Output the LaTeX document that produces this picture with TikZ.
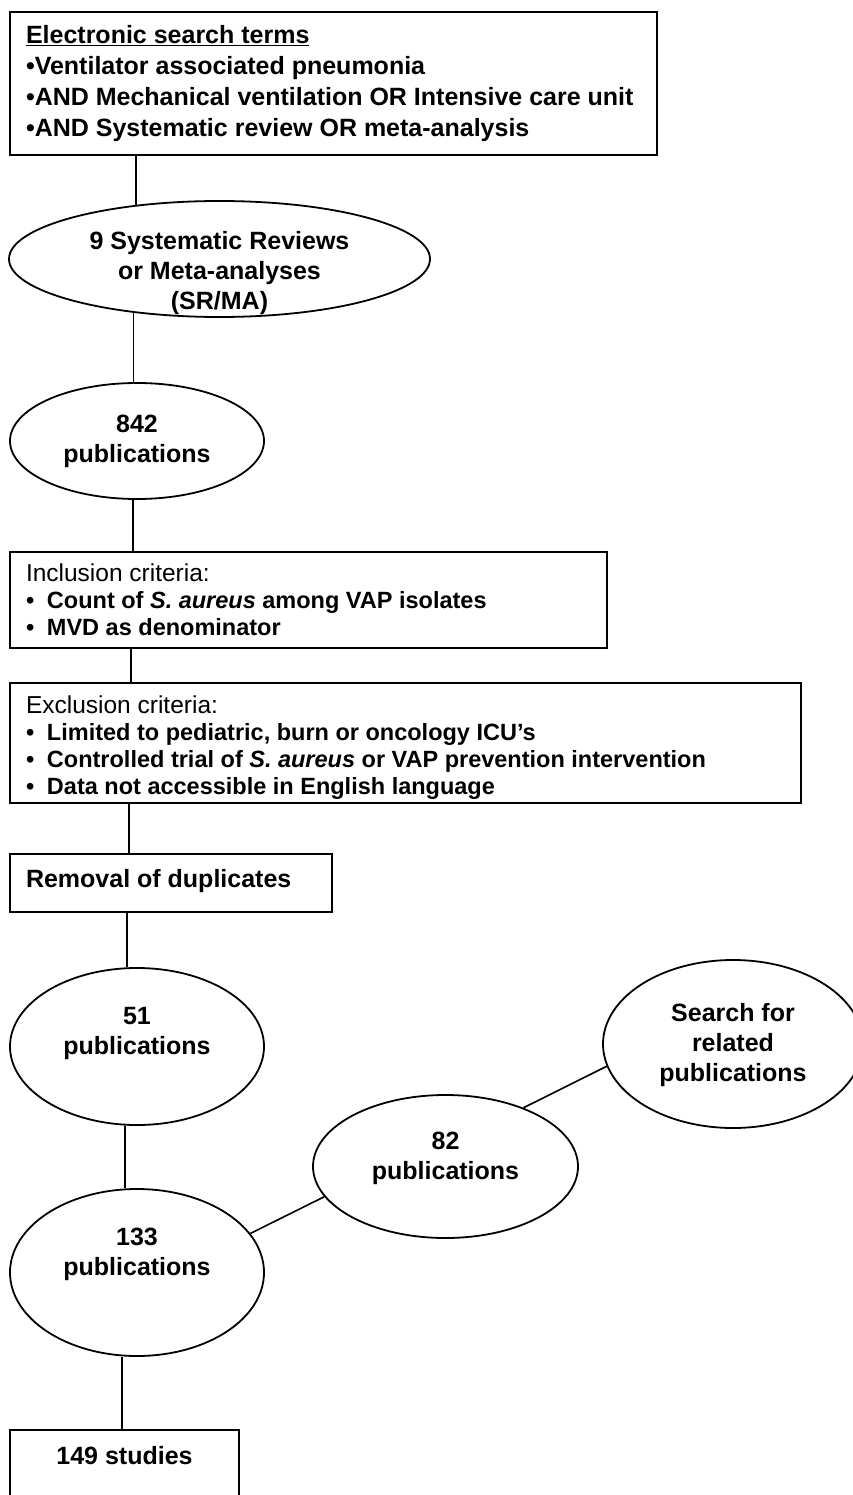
\documentclass[tikz,border=0pt]{standalone}
\usepackage{fontspec}
\setmainfont{Liberation Sans}
\usetikzlibrary{shapes.geometric}
\newcommand{\lift}[2]{\raisebox{#1}[0pt][0pt]{\begin{tabular}[t]{@{}c@{}}#2\end{tabular}}}
\newcommand{\boxtext}[3]{\raisebox{#1}[0pt][0pt]{\makebox[#2][l]{\begin{tabular}[t]{@{}l@{}}#3\end{tabular}}}}
\newcommand{\bul}{\makebox[21pt][l]{•}}
\newcommand{\crithead}{\fontsize{24.5}{27}\selectfont\mdseries}
\tikzset{
  box/.style={draw, line width=2pt, rectangle, inner sep=0pt, font=\fontsize{25}{30}\selectfont\bfseries},
  oval/.style={draw, line width=1.8pt, ellipse, inner sep=0pt, font=\fontsize{25}{30}\selectfont\bfseries},
  crit/.style={font=\fontsize{23.5}{27}\selectfont\bfseries},
  conn/.style={line width=1.6pt}
}
\begin{document}
\begin{tikzpicture}[x=1pt,y=-1pt]
\fill[white] (0,0) rectangle (853,1495);
\useasboundingbox (0,0) rectangle (853,1495);

\node[box, minimum width=647pt, minimum height=143pt, font=\fontsize{25}{31}\selectfont\bfseries] (top) at (333.5,83.5)
  {\boxtext{39.5pt}{615pt}{\underline{Electronic search terms}\\ •Ventilator associated pneumonia\\ •AND Mechanical ventilation OR Intensive care unit\\ •AND Systematic review OR meta-analysis}};

\node[oval, minimum width=421pt, minimum height=116pt] (sr) at (219.5,259)
  {\lift{9.5pt}{9 Systematic Reviews\\ or Meta-analyses\\ (SR/MA)}};

\node[oval, minimum width=254pt, minimum height=116pt] (n842) at (137,441)
  {\lift{9pt}{842\\ publications}};

\node[box, crit, minimum width=597pt, minimum height=96pt] (incl) at (308.5,600)
  {\boxtext{18.6pt}{565pt}{\crithead Inclusion criteria:\\ \bul Count of \textit{S. aureus} among VAP isolates\\ \bul MVD as denominator}};

\node[box, crit, minimum width=791pt, minimum height=120pt] (excl) at (405.5,743)
  {\boxtext{29.6pt}{759pt}{\crithead Exclusion criteria:\\ \bul Limited to pediatric, burn or oncology ICU’s\\ \bul Controlled trial of \textit{S. aureus} or VAP prevention intervention\\ \bul Data not accessible in English language}};

\node[box, minimum width=322pt, minimum height=58pt] (rem) at (171,883)
  {\boxtext{-4pt}{290pt}{Removal of duplicates}};

\node[oval, minimum width=254pt, minimum height=157pt] (n51) at (137,1046.5)
  {\lift{22.5pt}{51\\ publications}};

\node[oval, minimum width=254pt, minimum height=167pt] (n133) at (137,1272.5)
  {\lift{27.5pt}{133\\ publications}};

\node[oval, minimum width=265pt, minimum height=143pt] (n82) at (445.5,1166.5)
  {\lift{17.5pt}{82\\ publications}};

\node[oval, minimum width=260pt, minimum height=168pt] (srch) at (733,1044)
  {\lift{23pt}{Search for\\ related\\ publications}};

\node[box, minimum width=229pt, minimum height=120pt] (res) at (124.5,1490)
  {\lift{26pt}{149 studies}};

\draw[conn] (sr.147.1 |- top.south) -- (sr.147.1);
\draw[conn] (sr.212.15) -- (sr.212.15 |- n842.north);
\draw[conn] (n842.south -| 133,0) -- (incl.north -| 133,0);
\draw[conn] (incl.south -| 131,0) -- (excl.north -| 131,0);
\draw[conn] (excl.south -| 129,0) -- (rem.north -| 129,0);
\draw[conn] (rem.south -| 127,0) -- (n51.north -| 127,0);
\draw[conn] (n51.south -| 125,0) -- (n133.north -| 125,0);
\draw[conn] (n133.south -| 122,0) -- (res.north -| 122,0);
\draw[conn] (n133.19.7) -- (n82.194.65);
\draw[conn] (n82.37.4) -- (srch.190.8);
\end{tikzpicture}
\end{document}
